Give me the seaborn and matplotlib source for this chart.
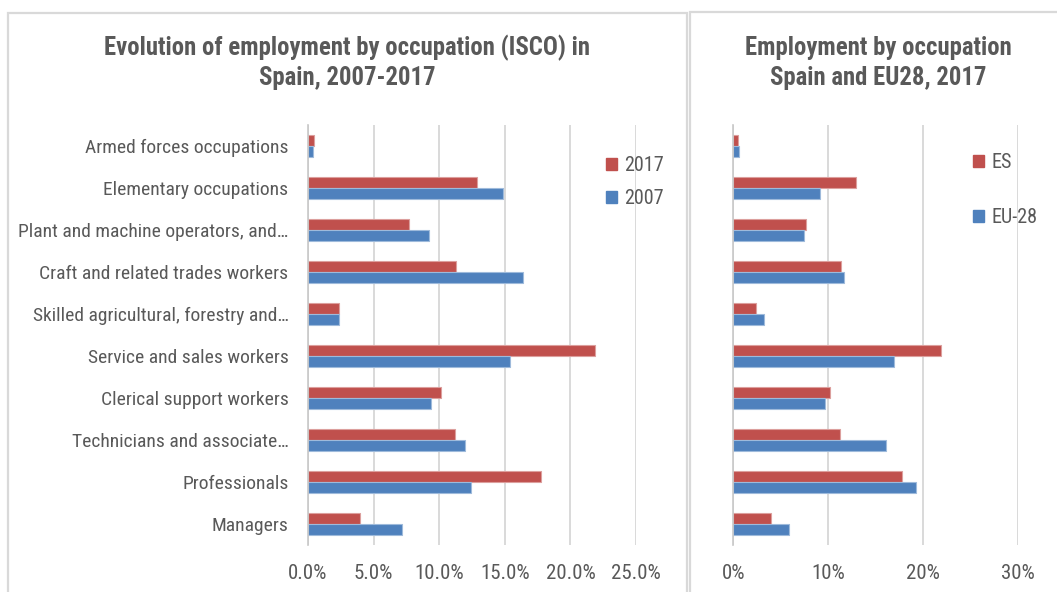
import numpy as np
import pandas as pd
import seaborn as sns
import matplotlib.pyplot as plt
from matplotlib import font_manager
from matplotlib.patches import Rectangle
from matplotlib.ticker import FuncFormatter, MultipleLocator

# ISCO major groups, top to bottom
occupations = [
    "Armed forces occupations",
    "Elementary occupations",
    "Plant and machine operators, and…",
    "Craft and related trades workers",
    "Skilled agricultural, forestry and…",
    "Service and sales workers",
    "Clerical support workers",
    "Technicians and associate…",
    "Professionals",
    "Managers",
]

# Share of total employment (%)
spain_2017 = [0.45, 12.9, 7.7, 11.3, 2.4, 21.85, 10.15, 11.2, 17.75, 3.95]
spain_2007 = [0.4, 14.85, 9.2, 16.35, 2.35, 15.4, 9.35, 12.0, 12.45, 7.2]
eu28_2017 = [0.55, 9.1, 7.4, 11.7, 3.25, 16.95, 9.65, 16.05, 19.2, 5.9]

left_series = ["2017", "2007"]
right_series = ["ES", "EU-28"]

RED = "#C0504D"
BLUE = "#4F81BD"
GRID = "#D9D9D9"
TEXT = "#595959"


def first_available(names):
    for name in names:
        try:
            font_manager.findfont(name, fallback_to_default=False)
            return name
        except ValueError:
            continue
    return "DejaVu Sans"


BASE_FONT = first_available(["Roboto Condensed", "Liberation Sans Narrow",
                             "Open Sans Condensed", "Liberation Sans"])
CONDENSED = "Narrow" in BASE_FONT or "Condensed" in BASE_FONT
YLABEL_SIZE = 14 if CONDENSED else 12.2
XLABEL_SIZE = 15 if CONDENSED else 12.6
LEGEND_SIZE = 14.5 if CONDENSED else 12.6
TITLE_SIZE = 17.8 if CONDENSED else 14

sns.set_theme(style="white")
plt.rcParams["font.family"] = [BASE_FONT, "DejaVu Sans"]

W, H = 1057, 592
fig = plt.figure(figsize=(W / 100, H / 100), dpi=100)


def fx(px):
    return px / W


def fy(py):
    return 1 - py / H


def long_frame(a, b, names):
    return pd.DataFrame({
        "occupation": occupations * 2,
        "share": list(a) + list(b),
        "series": [names[0]] * len(occupations) + [names[1]] * len(occupations),
    })


def style_axis(ax, xmax, step, fmt, show_labels):
    ax.set_xlim(0, xmax)
    ax.xaxis.set_major_locator(MultipleLocator(step))
    ax.xaxis.set_major_formatter(FuncFormatter(fmt))
    ax.grid(axis="x", color=GRID, linewidth=1.4)
    ax.set_axisbelow(True)
    for s in ("top", "right", "bottom"):
        ax.spines[s].set_visible(False)
    ax.spines["left"].set_color("#C8C8C8")
    ax.spines["left"].set_linewidth(1.2)
    ax.tick_params(axis="both", length=0, colors=TEXT)
    ax.tick_params(axis="x", pad=14, labelsize=XLABEL_SIZE)
    ax.tick_params(axis="y", pad=14, labelsize=YLABEL_SIZE)
    ax.set_xlabel("")
    ax.set_ylabel("")
    if not show_labels:
        ax.set_yticklabels([])


def add_legend(ax, names, x, y, spacing):
    handles = [Rectangle((0, 0), 1, 1, color=RED), Rectangle((0, 0), 1, 1, color=BLUE)]
    leg = ax.legend(handles, names, loc="upper left", bbox_to_anchor=(fx(x), fy(y)),
                    bbox_transform=fig.transFigure, frameon=False,
                    fontsize=LEGEND_SIZE, handlelength=0.55, handleheight=0.55,
                    handletextpad=0.35, labelspacing=spacing, labelcolor=TEXT,
                    borderpad=0)
    leg.set_zorder(5)


# Left panel: Spain 2007 vs 2017
ax1 = fig.add_axes([fx(308), fy(545), fx(636) - fx(308), fy(125) - fy(545)])
sns.barplot(data=long_frame(spain_2017, spain_2007, left_series), y="occupation",
            x="share", hue="series", hue_order=left_series, orient="h",
            palette=[RED, BLUE], width=0.52, saturation=1, ax=ax1, legend=False)
style_axis(ax1, 25, 5, lambda v, p: f"{v:.1f}%", True)
add_legend(ax1, left_series, 596, 146, 0.68)

# Right panel: Spain vs EU-28, 2017
ax2 = fig.add_axes([fx(733.3), fy(545), fx(1018.3) - fx(733.3), fy(125) - fy(545)])
sns.barplot(data=long_frame(spain_2017, eu28_2017, right_series), y="occupation",
            x="share", hue="series", hue_order=right_series, orient="h",
            palette=[RED, BLUE], width=0.52, saturation=1, ax=ax2, legend=False)
style_axis(ax2, 30, 10, lambda v, p: f"{v:.0f}%", False)
add_legend(ax2, right_series, 963, 143, 1.8)

# Lighter outline on each bar
for ax in (ax1, ax2):
    for patch in ax.patches:
        fc = np.array(patch.get_facecolor()[:3])
        patch.set_edgecolor(tuple(fc + (1 - fc) * 0.45))
        patch.set_linewidth(0.8)

# Panel frames
fig.patches.append(Rectangle((fx(8), fy(620)), fx(687) - fx(8), fy(13) - fy(620),
                             transform=fig.transFigure, fill=False,
                             edgecolor=GRID, linewidth=1.6))
fig.patches.append(Rectangle((fx(690), fy(620)), fx(1070) - fx(690), fy(12) - fy(620),
                             transform=fig.transFigure, fill=False,
                             edgecolor=GRID, linewidth=1.6))

# Titles
title_kw = dict(ha="center", va="center", color=TEXT, fontsize=TITLE_SIZE,
                fontweight="bold")
fig.text(fx(347), fy(48), "Evolution of employment by occupation (ISCO) in", **title_kw)
fig.text(fx(347), fy(78), "Spain, 2007-2017", **title_kw)
fig.text(fx(878), fy(48), "Employment by occupation", **title_kw)
fig.text(fx(878), fy(78), "Spain and EU28, 2017", **title_kw)

fig.savefig("out.png", dpi=100, facecolor="white")
